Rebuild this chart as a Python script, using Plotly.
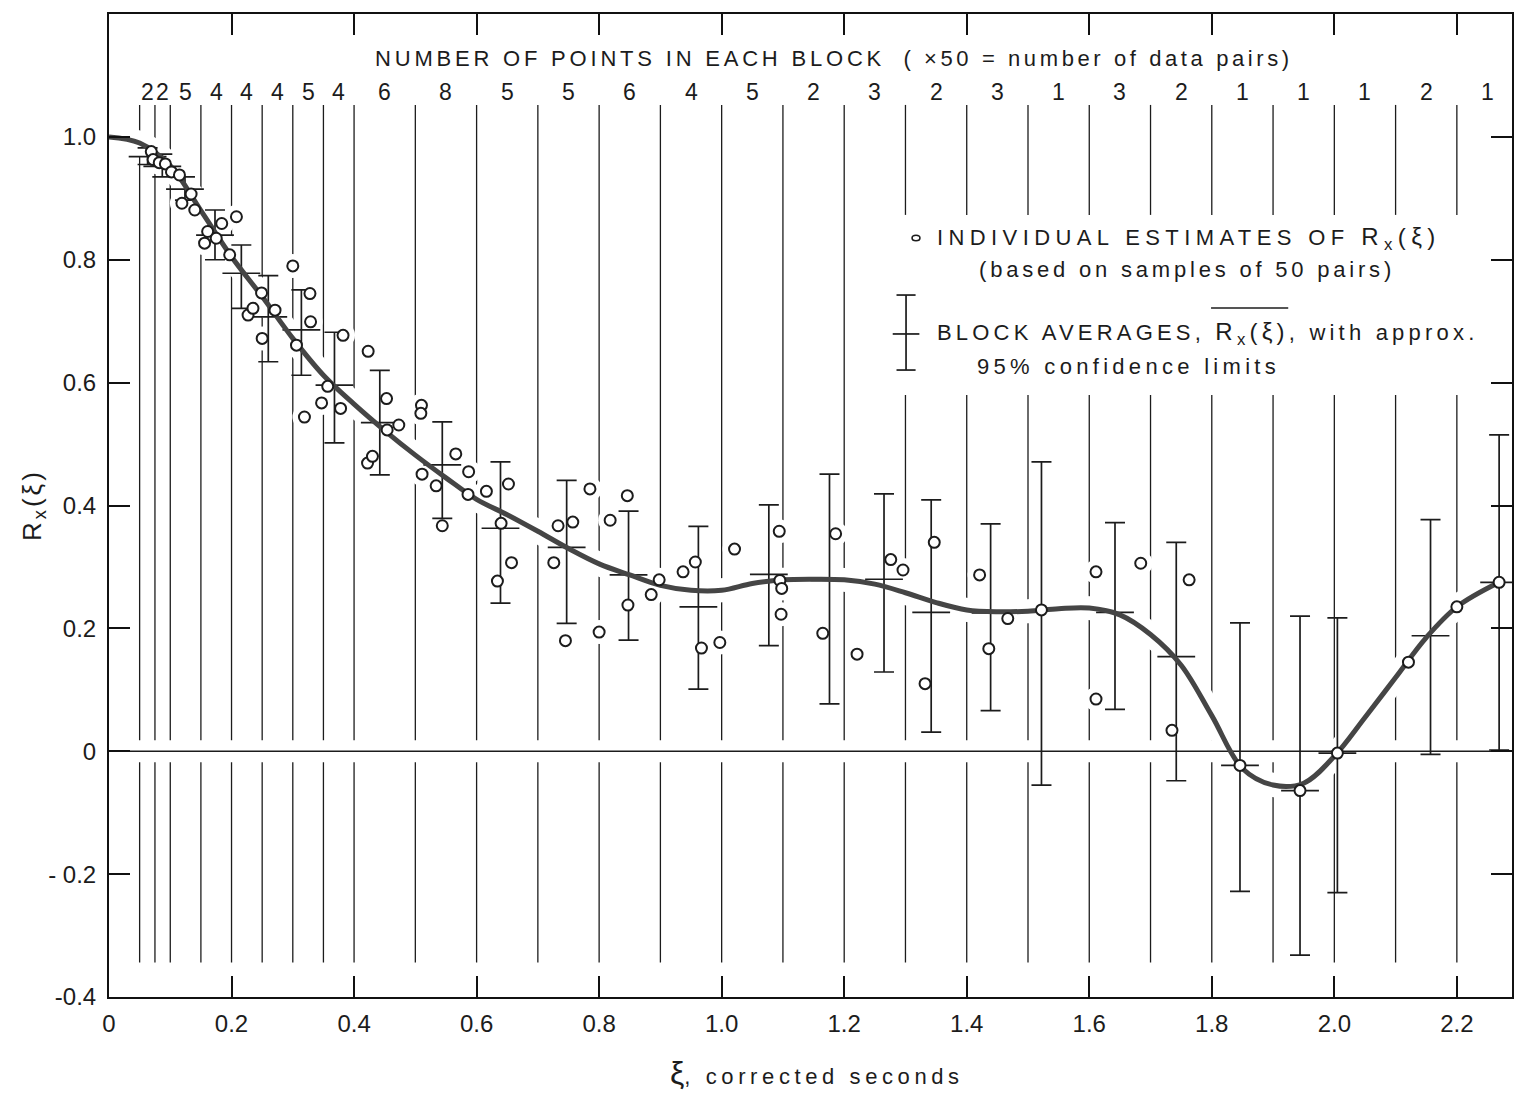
import plotly.graph_objects as go

# ---------------------------------------------------------------------------
# Data
# ---------------------------------------------------------------------------
# Lag-block boundaries (corrected seconds) and number of estimates per block
block_edges = [0.05, 0.075, 0.1, 0.15, 0.2, 0.25, 0.3, 0.35, 0.4, 0.5, 0.6, 0.7,
               0.8, 0.9, 1.0, 1.1, 1.2, 1.3, 1.4, 1.5, 1.6, 1.7, 1.8, 1.9, 2.0,
               2.1, 2.2, 2.3]
block_counts = [2, 2, 5, 4, 4, 4, 5, 4, 6, 8, 5, 5, 6, 4, 5, 2, 3, 2, 3, 1, 3,
                2, 1, 1, 1, 2, 1]

# Individual estimates of R_x(xi), each from a sample of 50 pairs
est_lag = [0.069, 0.072, 0.082, 0.092, 0.102, 0.115, 0.134, 0.119, 0.140,
           0.161, 0.175, 0.156, 0.184, 0.197, 0.208, 0.227, 0.235, 0.249,
           0.250, 0.271, 0.300, 0.306, 0.319, 0.328, 0.329, 0.347, 0.357,
           0.378, 0.382, 0.423, 0.422, 0.430, 0.453, 0.454, 0.473, 0.510,
           0.509, 0.511, 0.534, 0.544, 0.566, 0.587, 0.586, 0.616, 0.652,
           0.640, 0.634, 0.657, 0.733, 0.757, 0.726, 0.785, 0.745, 0.800,
           0.818, 0.846, 0.847, 0.885, 0.898, 0.937, 0.957, 0.967, 0.997,
           1.021, 1.094, 1.095, 1.098, 1.097, 1.165, 1.186, 1.221, 1.276,
           1.296, 1.332, 1.347, 1.421, 1.436, 1.467, 1.522, 1.611, 1.611,
           1.684, 1.735, 1.763, 1.846, 1.944, 2.005, 2.121, 2.200, 2.269]
est_r = [0.976, 0.963, 0.958, 0.956, 0.943, 0.938, 0.907, 0.892, 0.881,
         0.846, 0.835, 0.827, 0.859, 0.808, 0.870, 0.710, 0.721, 0.746,
         0.672, 0.718, 0.790, 0.661, 0.544, 0.745, 0.699, 0.567, 0.594,
         0.558, 0.677, 0.651, 0.469, 0.480, 0.574, 0.523, 0.531, 0.563,
         0.550, 0.451, 0.432, 0.367, 0.484, 0.455, 0.418, 0.423, 0.435,
         0.371, 0.277, 0.307, 0.367, 0.373, 0.307, 0.427, 0.180, 0.194,
         0.376, 0.416, 0.238, 0.255, 0.279, 0.292, 0.308, 0.168, 0.177,
         0.329, 0.358, 0.278, 0.265, 0.223, 0.192, 0.354, 0.158, 0.312,
         0.295, 0.110, 0.340, 0.287, 0.167, 0.216, 0.230, 0.292, 0.085,
         0.306, 0.034, 0.279, -0.023, -0.064, -0.003, 0.145, 0.235, 0.275]

# Block averages with approximate 95% confidence limits
avg_lag = [0.063, 0.087, 0.124, 0.173, 0.216, 0.260, 0.314, 0.368, 0.442,
           0.544, 0.639, 0.747, 0.848, 0.962, 1.077, 1.176, 1.265, 1.342,
           1.439, 1.522, 1.642, 1.742, 1.846, 1.944, 2.005, 2.157, 2.269]
avg_r = [0.968, 0.952, 0.915, 0.840, 0.778, 0.707, 0.686, 0.596, 0.535,
         0.466, 0.363, 0.332, 0.287, 0.235, 0.288, 0.278, 0.280, 0.226,
         0.225, 0.230, 0.226, 0.154, -0.023, -0.064, -0.003, 0.188, 0.275]
avg_lo = [0.955, 0.935, 0.897, 0.800, 0.721, 0.634, 0.612, 0.502, 0.450,
          0.379, 0.241, 0.208, 0.181, 0.101, 0.172, 0.077, 0.129, 0.031,
          0.066, -0.055, 0.068, -0.048, -0.228, -0.332, -0.230, -0.005, 0.002]
avg_hi = [0.982, 0.972, 0.935, 0.881, 0.824, 0.774, 0.751, 0.682, 0.620,
          0.536, 0.471, 0.441, 0.391, 0.366, 0.401, 0.451, 0.419, 0.409,
          0.370, 0.471, 0.372, 0.340, 0.209, 0.220, 0.217, 0.377, 0.515]

# Smoothed autocorrelation curve
curve_lag = [0, 0.05, 0.1, 0.15, 0.2, 0.25, 0.3, 0.35, 0.4, 0.45, 0.5, 0.55,
             0.6, 0.65, 0.7, 0.75, 0.8, 0.85, 0.9, 0.95, 1.0, 1.05, 1.1, 1.15,
             1.2, 1.25, 1.3, 1.35, 1.4, 1.45, 1.5, 1.55, 1.6, 1.65, 1.7, 1.75,
             1.8, 1.85, 1.9, 1.95, 2.0, 2.05, 2.1, 2.15, 2.2, 2.269]
curve_r = [1.0, 0.99, 0.953, 0.88, 0.805, 0.74, 0.672, 0.612, 0.565, 0.522,
           0.482, 0.445, 0.41, 0.385, 0.358, 0.33, 0.305, 0.287, 0.27, 0.262,
           0.262, 0.273, 0.279, 0.28, 0.279, 0.272, 0.258, 0.242, 0.23, 0.227,
           0.228, 0.232, 0.233, 0.222, 0.19, 0.14, 0.058, -0.028, -0.055,
           -0.052, -0.008, 0.055, 0.12, 0.185, 0.235, 0.275]

x_ticks = [0, 0.2, 0.4, 0.6, 0.8, 1.0, 1.2, 1.4, 1.6, 1.8, 2.0, 2.2]
x_ticktext = ["0", "0.2", "0.4", "0.6", "0.8", "1.0", "1.2", "1.4", "1.6",
              "1.8", "2.0", "2.2"]
y_ticks = [-0.4, -0.2, 0, 0.2, 0.4, 0.6, 0.8, 1.0]
y_ticktext = ["-0.4", "- 0.2", "0", "0.2", "0.4", "0.6", "0.8", "1.0"]

# ---------------------------------------------------------------------------
# Styling constants
# ---------------------------------------------------------------------------
INK = "#1c1c1c"
FONT = "Liberation Sans"
X_MAX = 2.29
Y_MIN, Y_MAX = -0.4, 1.2
LINE_TOP, LINE_BOTTOM = 1.052, -0.344      # extent of block-boundary rules
LEGEND_GAP = (0.58, 0.873)                 # rules are interrupted by the key
LEGEND_FROM = 1.3


def spaced(text, px=2.5):
    return f"<span style='letter-spacing:{px}px'>{text}</span>"


def sized(text, size):
    return f"<span style='font-size:{size}px'>{text}</span>"


RX = "R<sub>x</sub>(ξ)"

fig = go.Figure()

# Block-boundary rules
vx, vy = [], []
for e in block_edges:
    if e >= X_MAX:
        continue
    if e >= LEGEND_FROM:
        segs = [(LINE_TOP, LEGEND_GAP[1]), (LEGEND_GAP[0], LINE_BOTTOM)]
    else:
        segs = [(LINE_TOP, LINE_BOTTOM)]
    for a, b in segs:
        vx += [e, e, None]
        vy += [a, b, None]
fig.add_trace(go.Scatter(x=vx, y=vy, mode="lines",
                         line=dict(color=INK, width=1.3),
                         hoverinfo="skip", showlegend=False))

# White halos break the rules where the curve, points and zero line cross
fig.add_trace(go.Scatter(x=[0, X_MAX], y=[0, 0], mode="lines",
                         line=dict(color="white", width=22),
                         hoverinfo="skip", showlegend=False))
fig.add_trace(go.Scatter(x=curve_lag, y=curve_r, mode="lines",
                         line=dict(color="white", width=24, shape="spline",
                                   smoothing=1.0),
                         hoverinfo="skip", showlegend=False))
fig.add_trace(go.Scatter(x=est_lag, y=est_r, mode="markers",
                         marker=dict(symbol="circle", size=24, color="white",
                                     line=dict(width=0)),
                         hoverinfo="skip", showlegend=False))

# Zero line
fig.add_trace(go.Scatter(x=[0, X_MAX], y=[0, 0], mode="lines",
                         line=dict(color=INK, width=1.3),
                         hoverinfo="skip", showlegend=False))

# Block averages with confidence limits
err_plus = [h - m for h, m in zip(avg_hi, avg_r)]
err_minus = [m - l for m, l in zip(avg_r, avg_lo)]
fig.add_trace(go.Scatter(
    x=avg_lag, y=avg_r, mode="markers",
    marker=dict(symbol="line-ew", size=27, line=dict(color=INK, width=1.7)),
    error_y=dict(type="data", symmetric=False, array=err_plus,
                 arrayminus=err_minus, color=INK, thickness=1.7, width=10),
    showlegend=False))

# Smoothed curve
fig.add_trace(go.Scatter(x=curve_lag, y=curve_r, mode="lines",
                         line=dict(color="#454545", width=5, shape="spline",
                                   smoothing=1.0),
                         showlegend=False))

# Individual estimates
fig.add_trace(go.Scatter(x=est_lag, y=est_r, mode="markers",
                         marker=dict(symbol="circle", size=11, color="white",
                                     line=dict(color=INK, width=2)),
                         showlegend=False))

# ---------------------------------------------------------------------------
# Text
# ---------------------------------------------------------------------------
ann = []
ann.append(dict(
    x=0.5164, y=0.9552, xref="paper", yref="paper", showarrow=False,
    xanchor="center", yanchor="middle",
    text=spaced("NUMBER OF POINTS IN EACH BLOCK", 3.8) + "   "
    + spaced("( ×50 = number of data pairs)", 3.6),
    font=dict(family=FONT, size=22, color=INK)))

for i, n in enumerate(block_counts):
    mid = (block_edges[i] + block_edges[i + 1]) / 2
    ann.append(dict(x=mid, y=0.9207, xref="x", yref="paper", showarrow=False,
                    xanchor="center", yanchor="middle", text=str(n),
                    font=dict(family=FONT, size=23, color=INK)))

# Key
ann += [
    dict(x=0.5887, y=0.7721, xref="paper", yref="paper", showarrow=False,
         xanchor="left", yanchor="middle",
         text=spaced("INDIVIDUAL ESTIMATES OF " + sized(RX, 24), 5.4),
         font=dict(family=FONT, size=22, color=INK)),
    dict(x=0.6187, y=0.7396, xref="paper", yref="paper", showarrow=False,
         xanchor="left", yanchor="middle",
         text=spaced("(based on samples of 50 pairs)", 3.8),
         font=dict(family=FONT, size=22, color=INK)),
    dict(x=0.5887, y=0.6745, xref="paper", yref="paper", showarrow=False,
         xanchor="left", yanchor="middle",
         text=spaced("BLOCK AVERAGES, " + sized(RX, 24) + ", with approx.", 4.2),
         font=dict(family=FONT, size=22, color=INK)),
    dict(x=0.6172, y=0.6409, xref="paper", yref="paper", showarrow=False,
         xanchor="left", yanchor="middle",
         text=spaced("95% confidence limits", 4.3),
         font=dict(family=FONT, size=22, color=INK)),
]

# Axis titles
ann.append(dict(
    x=0.5046, y=-0.0773, xref="paper", yref="paper", showarrow=False,
    xanchor="center", yanchor="middle",
    text=sized("ξ", 32) + spaced(", corrected seconds", 4.6),
    font=dict(family=FONT, size=22, color=INK)))
ann.append(dict(
    x=-0.0542, y=0.5005, xref="paper", yref="paper", showarrow=False,
    xanchor="center", yanchor="middle", textangle=-90,
    text=spaced(RX, 3), font=dict(family=FONT, size=26, color=INK)))

# Key glyphs
kx = 0.5681
shapes = [
    dict(type="line", xref="paper", yref="paper", x0=kx, x1=kx,
         y0=0.6378, y1=0.7141, line=dict(color=INK, width=1.7)),
    dict(type="line", xref="paper", yref="paper", x0=kx - 0.0068, x1=kx + 0.0068,
         y0=0.7141, y1=0.7141, line=dict(color=INK, width=1.7)),
    dict(type="line", xref="paper", yref="paper", x0=kx - 0.0068, x1=kx + 0.0068,
         y0=0.6378, y1=0.6378, line=dict(color=INK, width=1.7)),
    dict(type="line", xref="paper", yref="paper", x0=kx - 0.0095, x1=kx + 0.0095,
         y0=0.6745, y1=0.6745, line=dict(color=INK, width=1.7)),
    dict(type="circle", xref="paper", yref="paper", x0=0.5724, x1=0.578,
         y0=0.7693, y1=0.7749, line=dict(color=INK, width=1.6),
         fillcolor="white"),
    # overbar on the block-average symbol
    dict(type="line", xref="paper", yref="paper", x0=0.7855, x1=0.8405,
         y0=0.7009, y1=0.7009, line=dict(color=INK, width=1.3)),
]

axis_common = dict(showline=True, linewidth=2, linecolor="#111", mirror="ticks",
                   ticks="inside", ticklen=21, tickwidth=1.8, tickcolor="#111",
                   showgrid=False, zeroline=False,
                   tickfont=dict(family=FONT, size=24, color=INK))

fig.update_layout(
    width=1526, height=1094,
    margin=dict(l=109, r=14, t=14, b=97),
    paper_bgcolor="white", plot_bgcolor="white",
    xaxis=dict(range=[0, X_MAX], tickvals=x_ticks, ticktext=x_ticktext,
               ticklabelstandoff=4, **axis_common),
    yaxis=dict(range=[Y_MIN, Y_MAX], tickvals=y_ticks, ticktext=y_ticktext,
               ticklabelstandoff=6, **axis_common),
    annotations=ann, shapes=shapes, showlegend=False,
)

fig.write_html("out.html")
